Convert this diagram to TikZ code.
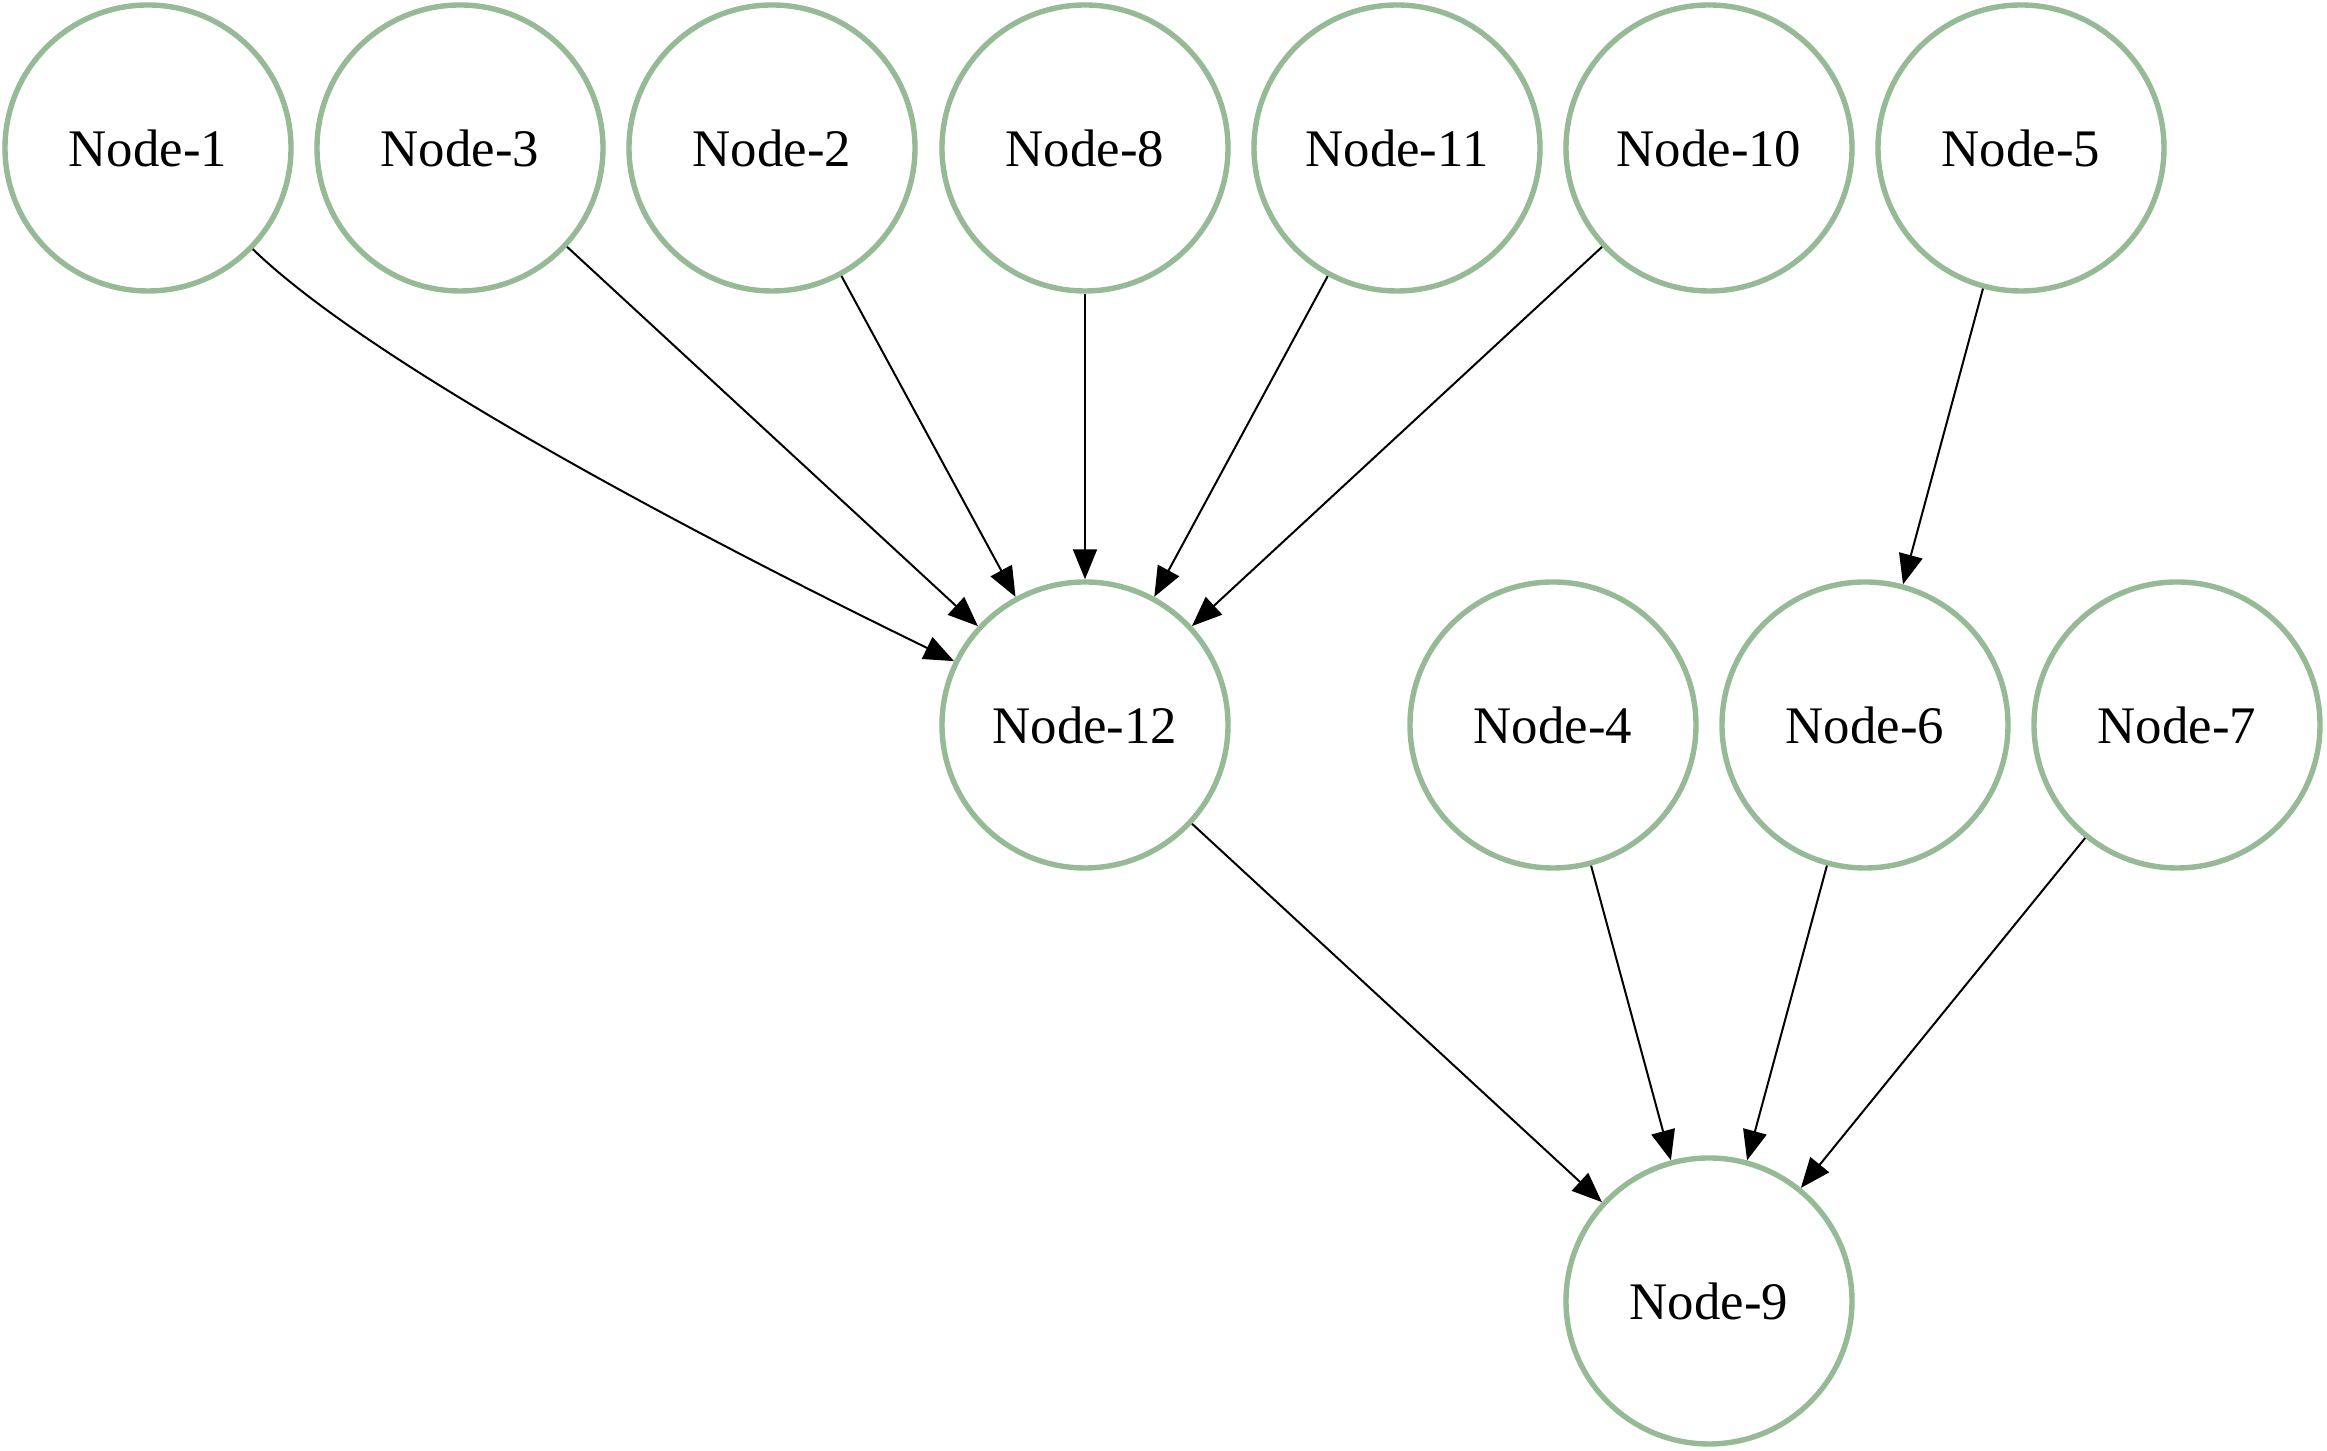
\documentclass[tikz,border=0pt]{standalone}
\usepackage{fontspec}
\setmainfont{Liberation Serif}
\usetikzlibrary{arrows.meta}
\definecolor{ringgreen}{RGB}{150,185,150}
\begin{document}
\begin{tikzpicture}[x=0.25pt,y=-0.25pt,
  graphnode/.style={circle,draw=ringgreen,line width=1.35pt,minimum size=71.5pt,inner sep=0pt,
    font=\fontsize{13.2pt}{15pt}\selectfont},
  link/.style={draw=black,line width=0.5pt,-{Triangle[length=7.5pt,width=6pt]}}]
\useasboundingbox (0,0) rectangle (2327,1451);
% top row
\node[graphnode] (n1)  at (148,148)  {Node-1};
\node[graphnode] (n3)  at (460,148)  {Node-3};
\node[graphnode] (n2)  at (772,148)  {Node-2};
\node[graphnode] (n8)  at (1085,148) {Node-8};
\node[graphnode] (n11) at (1397,148) {Node-11};
\node[graphnode] (n10) at (1709,148) {Node-10};
\node[graphnode] (n5)  at (2021,148) {Node-5};
% middle row
\node[graphnode] (n12) at (1085,725) {Node-12};
\node[graphnode] (n4)  at (1553,725) {Node-4};
\node[graphnode] (n6)  at (1865,725) {Node-6};
\node[graphnode] (n7)  at (2177,725) {Node-7};
% bottom
\node[graphnode] (n9)  at (1709,1301) {Node-9};
% edges
\draw[link] (n1) to[out=-44,in=154,looseness=0.6] (n12);
\draw[link] (n3) -- (n12);
\draw[link] (n2) -- (n12);
\draw[link] (n8) -- (n12);
\draw[link] (n11) -- (n12);
\draw[link] (n10) -- (n12);
\draw[link] (n5) -- (n6);
\draw[link] (n12) -- (n9);
\draw[link] (n4) -- (n9);
\draw[link] (n6) -- (n9);
\draw[link] (n7) -- (n9);
\end{tikzpicture}
\end{document}
